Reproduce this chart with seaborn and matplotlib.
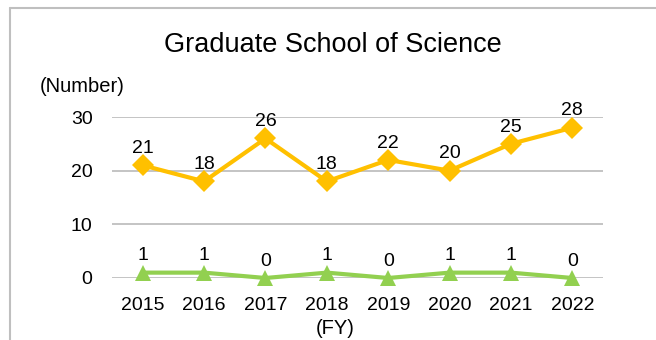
import matplotlib
matplotlib.use("Agg")
import matplotlib.pyplot as plt
import seaborn as sns
import pandas as pd
from matplotlib.lines import Line2D

sns.set_theme(style="white")
plt.rcParams["font.family"] = ["Liberation Sans", "DejaVu Sans"]

years = ["2015", "2016", "2017", "2018", "2019", "2020", "2021", "2022"]
series_a = [21, 18, 26, 18, 22, 20, 25, 28]
series_b = [1, 1, 0, 1, 0, 1, 1, 0]
y_ticks = [0, 10, 20, 30]

df = pd.DataFrame({"year": years, "a": series_a, "b": series_b})
df["pos"] = range(len(years))

fig = plt.figure(figsize=(6.56, 3.40), dpi=100)
ax = fig.add_axes([112 / 656, 1 - 278 / 340, (603 - 112) / 656, (278 - 117) / 340])

yellow = "#FFC000"
green = "#92D050"

sns.lineplot(data=df, x="pos", y="a", ax=ax, color=yellow, linewidth=3,
             marker="D", markersize=11, markeredgewidth=0, clip_on=False)
sns.lineplot(data=df, x="pos", y="b", ax=ax, color=green, linewidth=3,
             marker="^", markersize=12, markeredgewidth=0, clip_on=False)

for col, vals in (("a", series_a), ("b", series_b)):
    for x, v in zip(df["pos"], vals):
        ax.annotate(str(v), (x, v), xytext=(0, 6), textcoords="offset points",
                    ha="center", va="bottom", fontsize=14, color="black")

ax.set_xlim(-0.5, len(years) - 0.5)
ax.set_ylim(0, 30)
ax.set_yticks(y_ticks)
ax.set_xticks(df["pos"])
ax.set_xticklabels(years)
ax.tick_params(axis="both", length=0, labelsize=14, colors="black")
ax.tick_params(axis="x", pad=14)
ax.tick_params(axis="y", pad=14)
ax.set_xlabel("")
ax.set_ylabel("")
ax.grid(axis="y", color="#BFBFBF", linewidth=1.3)
ax.set_axisbelow(True)
for s in ax.spines.values():
    s.set_visible(False)

fig.text(333 / 656, 1 - 45 / 340, "Graduate School of Science", ha="center",
         va="center", fontsize=19.5, color="black")
fig.text(40 / 656, 1 - 87 / 340, "(Number)", ha="left", va="center",
         fontsize=14.5, color="black")
fig.text(335 / 656, 1 - 329 / 340, "(FY)", ha="center", va="center",
         fontsize=14.5, color="black")

# outer frame: left and top edges
fig.add_artist(Line2D([9.5 / 656, 9.5 / 656], [0, 1 - 7.5 / 340],
                      transform=fig.transFigure, color="#BFBFBF", linewidth=1.5))
fig.add_artist(Line2D([9.5 / 656, 1], [1 - 7.5 / 340, 1 - 7.5 / 340],
                      transform=fig.transFigure, color="#BFBFBF", linewidth=1.5))

fig.savefig("out.png", dpi=100)
